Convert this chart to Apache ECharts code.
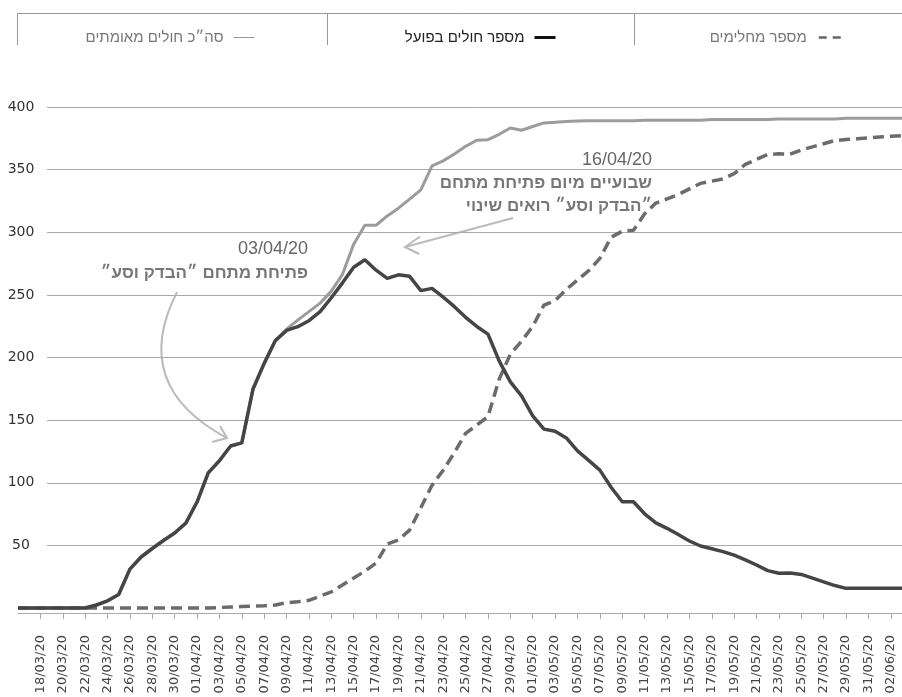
<!DOCTYPE html>
<html><head><meta charset="utf-8">
<script src="https://cdn.jsdelivr.net/npm/echarts@6/dist/echarts.min.js"></script>
<style>html,body{margin:0;padding:0;background:#fff}#c{width:902px;height:697px}</style>
</head><body><div id="c"></div><script>
const dates = [
'16/03/20','17/03/20','18/03/20','19/03/20','20/03/20','21/03/20','22/03/20','23/03/20','24/03/20','25/03/20',
'26/03/20','27/03/20','28/03/20','29/03/20','30/03/20','31/03/20',
'01/04/20','02/04/20','03/04/20','04/04/20','05/04/20','06/04/20','07/04/20','08/04/20','09/04/20','10/04/20',
'11/04/20','12/04/20','13/04/20','14/04/20','15/04/20','16/04/20','17/04/20','18/04/20','19/04/20','20/04/20',
'21/04/20','22/04/20','23/04/20','24/04/20','25/04/20','26/04/20','27/04/20','28/04/20','29/04/20','30/04/20',
'01/05/20','02/05/20','03/05/20','04/05/20','05/05/20','06/05/20','07/05/20','08/05/20','09/05/20','10/05/20',
'11/05/20','12/05/20','13/05/20','14/05/20','15/05/20','16/05/20','17/05/20','18/05/20','19/05/20','20/05/20',
'21/05/20','22/05/20','23/05/20','24/05/20','25/05/20','26/05/20','27/05/20','28/05/20','29/05/20','30/05/20',
'31/05/20','01/06/20','02/06/20','03/06/20'
];
const active = [
0,0,0,0,0,0,0,2.4,5.7,10.8,
31,40.7,47.5,53.9,59.9,67.8,84.6,107.9,117.6,129.3,
131.8,174.8,195.3,213.5,221.6,224.6,229.4,236.6,247.7,259.6,
272,278,269.7,263.2,266,264.8,253.4,255.2,248.2,240.6,
232.1,224.8,218.7,197.3,180.5,169.4,153.4,142.8,141.1,135.8,
125.5,117.9,110.1,96.4,84.8,84.8,75.2,68,63.6,58.6,
53.5,49.5,47.3,45,42.2,38.4,34.3,29.8,27.8,27.9,
26.8,23.9,20.9,17.9,15.7,15.7,15.7,15.7,15.7,15.7
];
const total = [
0,0,0,0,0,0,0,2.4,5.7,10.8,
31,40.7,47.5,53.9,59.9,67.8,84.6,107.9,117.6,129.3,
131.8,174.8,195.3,213.5,222.6,229.8,236.6,243.4,253,266.4,
290.5,305.6,305.6,313,319.2,326.5,333.8,353,357,362.5,
368.6,373.5,373.9,378.2,383.2,381.4,384.4,387.3,387.8,388.4,
388.9,389,389,389,389,389,389.5,389.5,389.5,389.5,
389.5,389.5,390,390,390,390,390,390,390.5,390.5,
390.5,390.5,390.5,390.5,391,391,391,391,391,391
];
const recovered = [
0,0,0,0,0,0,0,0,0,0,
0,0,0,0,0,0,0,0,0.4,0.8,
1.1,1.4,1.8,2.4,4.2,5,6.1,9.5,12.9,18.4,
23.9,29.4,35.9,51,54.4,62.2,80,98,110,124.1,
139.4,146,152.8,182.7,202.7,212.9,224.9,241.8,245.4,254.3,
261.9,269.3,279.1,296,300.8,301.6,314.7,323.3,326.6,330.1,
334.6,339,340.8,342.6,346.8,354.2,358.2,362.1,362.6,362.3,
365.7,368.2,370.7,373.2,374,374.7,375.3,376,376.6,377.2
];
const nameTotal = 'סה״כ חולים מאומתים';
const nameActive = 'מספר חולים בפועל';
const nameRecovered = 'מספר מחלימים';

const heb = '"Liberation Sans", "DejaVu Sans", sans-serif';
const lat = '"DejaVu Sans", sans-serif';
const showIdx = (i) => i >= 2 && i % 2 === 0;
const noSymbol = {opacity: 0, color: 'rgba(0,0,0,0)', borderWidth: 0};

const chart = echarts.init(document.getElementById('c'), null, {renderer: 'canvas'});
chart.setOption({
  animation: false,
  backgroundColor: '#fff',
  grid: [
    {left: 18, right: -4, top: 107, bottom: 84},
    {left: 47, right: 0, top: 107, bottom: 89}
  ],
  legend: [
    {data: [nameRecovered], right: 57, top: 30, padding: 0, align: 'right', itemWidth: 25, itemHeight: 14, selectedMode: false,
     textStyle: {color: '#777', fontSize: 15, fontFamily: heb, padding: [0, 7, 0, 0]},
     itemStyle: noSymbol, lineStyle: {type: [8, 6], width: 2.5, color: '#666'}},
    {data: [nameActive], right: 345, top: 30, padding: 0, align: 'right', itemWidth: 21, itemHeight: 14, selectedMode: false,
     textStyle: {color: '#222', fontSize: 15, fontFamily: heb, padding: [0, 5, 0, 0]},
     itemStyle: noSymbol, lineStyle: {width: 3, color: '#111'}},
    {data: [nameTotal], right: 647, top: 30, padding: 0, align: 'right', itemWidth: 21, itemHeight: 14, selectedMode: false,
     textStyle: {color: '#777', fontSize: 15, fontFamily: heb, padding: [0, 5, 0, 0]},
     itemStyle: noSymbol, lineStyle: {width: 1, color: '#999'}}
  ],
  xAxis: [
    {type: 'category', gridIndex: 0, data: dates, boundaryGap: false,
     axisLine: {onZero: false, lineStyle: {color: '#aaa', width: 1}},
     axisTick: {interval: showIdx, length: 6, lineStyle: {color: '#aaa'}},
     axisLabel: {interval: showIdx, rotate: 90, margin: 22, color: '#444', fontSize: 13, fontFamily: lat},
     splitLine: {show: false}},
    {type: 'value', gridIndex: 1, show: false, min: 0, max: 1}
  ],
  yAxis: [
    {type: 'value', gridIndex: 0, min: -4, max: 400, show: false},
    {type: 'value', gridIndex: 1, min: 0, max: 400, interval: 50,
     axisLine: {show: false}, axisTick: {show: false},
     splitLine: {show: true, showMinLine: false, lineStyle: {color: '#aaa', width: 1}},
     axisLabel: {formatter: (v) => v === 0 ? '' : String(v), align: 'center', margin: 26, color: '#333', fontSize: 14, fontFamily: lat}}
  ],
  series: [
    {name: nameTotal, type: 'line', xAxisIndex: 0, yAxisIndex: 0, data: total, symbol: 'none', clip: false, z: 2,
     lineStyle: {color: '#9c9c9c', width: 3}, itemStyle: {color: '#9c9c9c'}, emphasis: {disabled: true}},
    {name: nameRecovered, type: 'line', xAxisIndex: 0, yAxisIndex: 0, data: recovered, symbol: 'none', clip: false, z: 3,
     lineStyle: {color: '#6b6b6b', width: 3.5, type: [11, 6]}, itemStyle: {color: '#6b6b6b'}, emphasis: {disabled: true}},
    {name: nameActive, type: 'line', xAxisIndex: 0, yAxisIndex: 0, data: active, symbol: 'none', clip: false, z: 4,
     lineStyle: {color: '#454545', width: 3.5}, itemStyle: {color: '#454545'}, emphasis: {disabled: true}}
  ],
  graphic: [
    {type: 'line', silent: true, shape: {x1: 17, y1: 13.5, x2: 902, y2: 13.5}, style: {stroke: '#999', lineWidth: 1}},
    {type: 'line', silent: true, shape: {x1: 17.5, y1: 13, x2: 17.5, y2: 45}, style: {stroke: '#999', lineWidth: 1}},
    {type: 'line', silent: true, shape: {x1: 327.5, y1: 13, x2: 327.5, y2: 45}, style: {stroke: '#999', lineWidth: 1}},
    {type: 'line', silent: true, shape: {x1: 634.5, y1: 13, x2: 634.5, y2: 45}, style: {stroke: '#999', lineWidth: 1}},
    {type: 'text', silent: true, x: 308, y: 249, style: {text: '03/04/20', align: 'right', verticalAlign: 'middle', fontSize: 18, fontFamily: heb, fill: '#666'}},
    {type: 'text', silent: true, x: 308, y: 273, style: {text: 'פתיחת מתחם ״הבדק וסע״', align: 'right', verticalAlign: 'middle', fontSize: 17, fontWeight: 'bold', fontFamily: heb, fill: '#777'}},
    {type: 'text', silent: true, x: 652, y: 160, style: {text: '16/04/20', align: 'right', verticalAlign: 'middle', fontSize: 18, fontFamily: heb, fill: '#666'}},
    {type: 'text', silent: true, x: 652, y: 183, style: {text: 'שבועיים מיום פתיחת מתחם', align: 'right', verticalAlign: 'middle', fontSize: 17, fontWeight: 'bold', fontFamily: heb, fill: '#777'}},
    {type: 'text', silent: true, x: 652, y: 206, style: {text: '״הבדק וסע״ רואים שינוי', align: 'right', verticalAlign: 'middle', fontSize: 17, fontWeight: 'bold', fontFamily: heb, fill: '#777'}},
    {type: 'bezierCurve', silent: true, shape: {x1: 177, y1: 292, cpx1: 150, cpy1: 345, cpx2: 152, cpy2: 398, x2: 227, y2: 438}, style: {stroke: '#bbb', lineWidth: 2, fill: null}},
    {type: 'polyline', silent: true, shape: {points: [[220, 426], [227, 438], [212, 442]]}, style: {stroke: '#bbb', lineWidth: 2, fill: null}},
    {type: 'line', silent: true, shape: {x1: 513, y1: 218, x2: 405, y2: 247}, style: {stroke: '#bbb', lineWidth: 2}},
    {type: 'polyline', silent: true, shape: {points: [[420, 236.5], [405, 247], [419, 254]]}, style: {stroke: '#bbb', lineWidth: 2, fill: null}}
  ]
});
</script></body></html>
